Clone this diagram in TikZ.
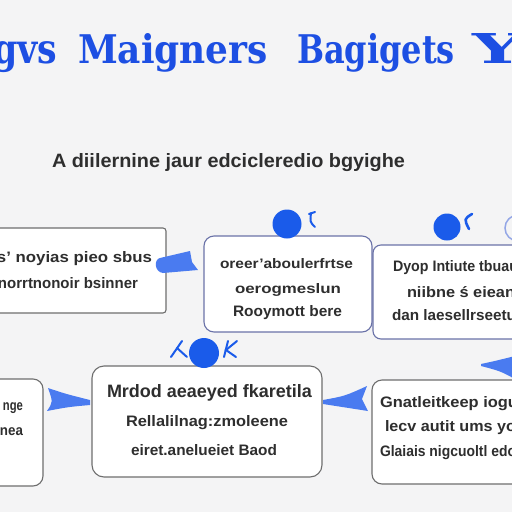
\documentclass[tikz,border=0pt]{standalone}
\usepackage{fontspec}
\setmainfont{Liberation Sans}
\newfontfamily\titlefont{DejaVu Serif}
\usepackage{graphicx}
\definecolor{bg}{HTML}{F4F4F5}
\definecolor{ttl}{HTML}{1D4FE3}
\definecolor{dotblue}{HTML}{1A5BEA}
\definecolor{arr}{HTML}{4A7BF0}
\definecolor{txt}{HTML}{2E2E2E}
\definecolor{bordblue}{HTML}{6A72A8}
\definecolor{bordgray}{HTML}{6E6E6E}
\definecolor{ringblue}{HTML}{93A6E6}
\newcommand\fitt[3]{\resizebox{#1pt}{#2pt}{\vphantom{A}#3}}
\begin{document}
\begin{tikzpicture}[x=1pt,y=-1pt,
  tl/.style={inner sep=0pt,outer sep=0pt,text=ttl,font=\titlefont\bfseries,anchor=base west},
  tx/.style={inner sep=0pt,outer sep=0pt,text=txt,font=\bfseries,anchor=base west},
  box/.style={draw=bordgray,fill=white,line width=1.1pt,inner sep=0pt},
  bbox/.style={box,draw=bordblue},
  dotc/.style={circle,fill=dotblue,inner sep=0pt},
  glyphmark/.style={draw=dotblue,line width=2pt,line cap=round},
  arrshape/.style={fill=arr}]
\useasboundingbox (0,0) rectangle (512,512);
\fill[bg] (0,0) rectangle (512,512);

% title
\node[tl] (t1) at (-7,63) {\fitt{64}{30}{gvs}};
\node[tl] (t2) at (78,63) {\fitt{190}{30}{Maigners}};
\node[tl] (t3) at (297,63) {\fitt{158}{30}{Bagigets}};
\node[tl] (t4) at (472,63) {\fitt{50}{30}{Y}};

% subtitle
\node[tx] (sub) at (52,167) {\fitt{353}{14}{A diilernine jaur edcicleredio bgyighe}};

% boxes
\node[box,rounded corners=3pt,minimum width=176pt,minimum height=85pt] (b1) at (78,270.5) {};
\node[bbox,rounded corners=10pt,minimum width=168pt,minimum height=96pt] (b2) at (288,284) {};
\node[bbox,rounded corners=8pt,minimum width=162pt,minimum height=94pt] (b3) at (454,292) {};
\node[box,rounded corners=10pt,minimum width=55pt,minimum height=107pt] (b4) at (15.5,432.5) {};
\node[box,rounded corners=12pt,minimum width=230pt,minimum height=111pt] (b5) at (207,421.5) {};
\node[box,rounded corners=10pt,minimum width=163pt,minimum height=104pt] (b6) at (453.5,432) {};

% box texts
\node[tx] (b1a) at (-3,262) {\fitt{155}{11}{s' noyias pieo sbus}};
\node[tx] (b1b) at (-2,288) {\fitt{140}{11}{norrtnonoir bsinner}};

\node[tx] (b2a) at (220,268) {\fitt{133}{10}{oreer'aboulerfrtse}};
\node[tx] (b2b) at (235,293) {\fitt{106}{10}{oerogmeslun}};
\node[tx] (b2c) at (233,316) {\fitt{109}{11}{Rooymott bere}};

\node[tx] (b3a) at (393,271) {\fitt{125}{11}{Dyop Intiute tbuau}};
\node[tx] (b3b) at (407,297) {\fitt{108}{11}{niibne ś eiean}};
\node[tx] (b3c) at (392,320) {\fitt{124}{11}{dan laesellrseetu}};

\node[tx] (b4a) at (3,410) {\fitt{20}{10}{nge}};
\node[tx] (b4b) at (0,435) {\fitt{23}{10}{nea}};

\node[tx] (b5a) at (107,397) {\fitt{205}{13}{Mrdod aeaeyed fkaretila}};
\node[tx] (b5b) at (126,426) {\fitt{162}{11}{Rellalilnag:zmoleene}};
\node[tx] (b5c) at (131,455) {\fitt{146}{11}{eiret.anelueiet Baod}};

\node[tx] (b6a) at (380,407) {\fitt{138}{11}{Gnatleitkeep iogu}};
\node[tx] (b6b) at (385,431) {\fitt{131}{11}{lecv autit ums yo}};
\node[tx] (b6c) at (380,456) {\fitt{136}{11}{Glaiais nigcuoltl edo}};

% circles and marks
\node[dotc,minimum size=29pt] (c2) at (287,224) {};
\draw[glyphmark] (309,214) -- (315,212);
\draw[glyphmark] (311,213) .. controls (310,222) .. (315,227);

\node[dotc,minimum size=27pt] (c3) at (447,227) {};
\draw[glyphmark,line width=2.6pt] (472,214) .. controls (464,219) .. (469,229);

\node[draw=ringblue,line width=1.5pt,circle,minimum size=26pt,inner sep=0pt] (c3b) at (518,228) {};

\node[dotc,minimum size=30pt] (c4) at (204,353) {};
\draw[glyphmark] (171,357) -- (182,341);
\draw[glyphmark] (177,348) -- (187,357);
\draw[glyphmark] (228,341) -- (224,357);
\draw[glyphmark] (237,341) -- (226,350) -- (236,357);

% arrows
\fill[arrshape] (160,258) -- (190,251) -- (192,262) -- (198,270) -- (163,273)
  .. controls (154,272) and (154,259) .. (160,258) -- cycle;
\fill[arrshape] (48,388) .. controls (66,394) .. (90,400) -- (90,405)
  .. controls (68,407) .. (47,411) .. controls (53,402) .. (48,388) -- cycle;
\fill[arrshape] (323,400) .. controls (345,396) .. (367,386) -- (362,399) -- (368,411)
  .. controls (345,407) .. (323,404) -- cycle;
\fill[arrshape] (481,364) .. controls (495,361) .. (515,356) -- (515,379)
  .. controls (500,371) .. (481,366) -- cycle;
\end{tikzpicture}
\end{document}
